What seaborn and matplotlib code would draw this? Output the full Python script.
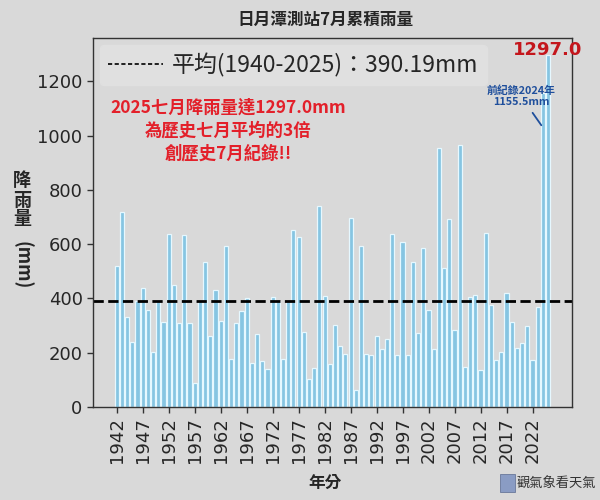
import numpy as np
import pandas as pd
import matplotlib
matplotlib.use("Agg")
import matplotlib.pyplot as plt
import seaborn as sns

# dati (luglio, stazione Sun Moon Lake)
anni = list(range(1942, 2026))
pioggia = [519, 717, 333, 238, 390, 437, 356, 201, 391, 314,
           638, 448, 309, 634, 309, 90, 390, 534, 262, 432,
           316, 592, 178, 308, 354, 403, 164, 268, 169, 139,
           406, 390, 176, 390, 652, 627, 278, 104, 144, 742,
           410, 160, 303, 225, 197, 695, 62, 595, 197, 191,
           262, 215, 249, 638, 191, 607, 191, 535, 273, 587,
           356, 215, 954, 511, 692, 283, 965, 146, 405, 411,
           137, 643, 377, 172, 202, 421, 314, 218, 236, 298,
           172, 369, 1155.5, 1297.0]
media = 390.19
etichetta_media = '平均(1940-2025)：390.19mm'
titolo = '日月潭測站7月累積雨量'
testo_rosso = '2025七月降雨量達1297.0mm\n為歷史七月平均的3倍\n創歷史7月紀錄!!'
testo_blu = '前紀錄2024年\n1155.5mm'

df = pd.DataFrame({'anno': anni, 'pioggia': pioggia})

sfondo = '#d9d9d9'
sns.set_style('white')
plt.rcParams['font.family'] = ['Noto Sans CJK TC', 'DejaVu Sans']
plt.rcParams['axes.unicode_minus'] = False

fig = plt.figure(figsize=(6, 5), dpi=100, facecolor=sfondo)
ax = fig.add_axes([0.155, 0.186, 0.798, 0.738], facecolor=sfondo)

sns.barplot(data=df, x='anno', y='pioggia', color='#86c5e2', saturation=1,
            edgecolor='#e6f8ff', linewidth=0.9, width=0.8, ax=ax)

ax.axhline(media, color='black', linestyle='--', linewidth=2, label=etichetta_media)

ax.set_xlim(-4.56, 87.56)
ax.set_ylim(0, 1360)
pos = list(range(0, len(anni), 5))
ax.set_xticks(pos)
ax.set_xticklabels([str(anni[i]) for i in pos], rotation=90, fontsize=13,
                   family='DejaVu Sans')
ax.set_yticks(range(0, 1201, 200))
ax.set_yticklabels([str(v) for v in range(0, 1201, 200)], fontsize=13,
                   family='DejaVu Sans')
ax.tick_params(axis='both', length=4, width=1, color='#333333', left=True, bottom=True)
for s in ax.spines.values():
    s.set_color('#333333')
    s.set_linewidth(1)

ax.set_xlabel('')
ax.set_ylabel('')

leg = ax.legend(loc='upper left', fontsize=16.5, handlelength=2.4, handletextpad=0.4,
                frameon=True, facecolor='#e0e0e0', edgecolor='#e0e0e0', framealpha=1,
                borderaxespad=0.3, borderpad=0.35)
leg.get_lines()[0].set_linewidth(1.2)
leg.get_lines()[0].set_dashes([2.5, 1.5])

# annotazioni
ax.text(21.5, 1020, testo_rosso, color='#e3202a', fontsize=12.5, fontweight='bold',
        ha='center', va='center', linespacing=1.35)
ax.text(len(anni) - 1, 1317, '1297.0', color='#c4161c', fontsize=13,
        fontweight='bold', ha='center', va='center', family='DejaVu Sans')
ax.annotate(testo_blu, xy=(len(anni) - 2, 1030), xytext=(77.8, 1145),
            color='#1f4f9c', fontsize=7.8, fontweight='bold', ha='center', va='center',
            linespacing=1.15,
            arrowprops=dict(arrowstyle='-', color='#1f4f9c', lw=1.3))

fig.text(0.542, 0.96, titolo, fontsize=12, fontweight='bold', ha='center', va='center')
fig.text(0.542, 0.034, '年分', fontsize=12, fontweight='bold', ha='center', va='center')
fig.text(0.037, 0.6, '降\n雨\n量', fontsize=13, fontweight='bold', ha='center',
         va='center', linespacing=1.0)
fig.text(0.037, 0.47, '(mm)', fontsize=13, fontweight='bold', ha='center',
         va='center', rotation=-90)
fig.patches.append(plt.Rectangle((0.833, 0.016), 0.026, 0.036, transform=fig.transFigure,
                                 facecolor='#8a9cc4', edgecolor='#5a6a90', lw=0.5))
fig.text(0.993, 0.034, '觀氣象看天氣', fontsize=9.5, color='#333333', ha='right',
         va='center')

fig.savefig('out.png', dpi=100, facecolor=sfondo)
